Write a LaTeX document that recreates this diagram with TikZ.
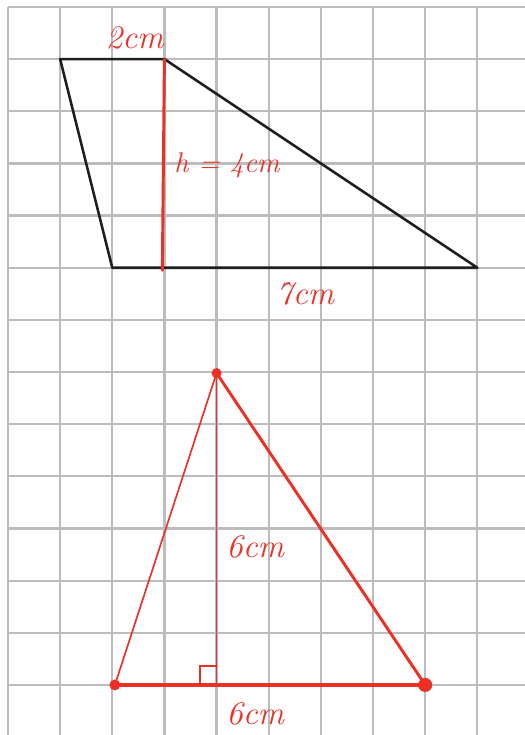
\documentclass[tikz,border=0pt]{standalone}
\usetikzlibrary{calc}
\begin{document}
\begin{tikzpicture}[x=1cm,y=1cm,
  gridline/.style={draw=gridc,line width=1.2pt},
  outline/.style={draw=inkc,line width=1.4pt,line join=round},
  redline/.style={draw=pen,line width=1.6pt,line cap=round},
  thinred/.style={draw=pen,line width=0.9pt,line cap=round},
  thickred/.style={draw=pen,line width=2.2pt,line cap=round},
  lbl/.style={text=pen,font=\fontsize{18}{18}\selectfont\itshape,inner sep=0pt},
  lblh/.style={text=pen,font=\fontsize{15.5}{15.5}\selectfont\itshape,inner sep=0pt},
  dot/.style={fill=pen}]
\definecolor{pen}{RGB}{236,48,38}
\definecolor{gridc}{RGB}{188,188,188}
\definecolor{inkc}{RGB}{30,30,30}
\useasboundingbox (-0.153,0.134) rectangle (9.914,-13.96);
\fill[white] (-0.153,0.134) rectangle (9.914,-13.96);
% grid
\foreach \j in {0,...,13} \draw[gridline] (0,-\j) -- (9.914,-\j);
\foreach \i in {0,...,9} \draw[gridline] (\i,0) -- (\i,-13.96);
% trapezoid
\coordinate (A) at (1,-1);
\coordinate (B) at (3,-1);
\coordinate (C) at (9,-5);
\coordinate (D) at (2,-5);
\coordinate (H) at (2.96,-5.05);
\draw[outline] (A) -- (B) -- (C) -- (D) -- cycle;
\draw[redline] (B) -- (H);
\node[lbl] (l2) at (2.43,-0.6) {2cm};
\node[lblh] (lh) at (4.2,-3.03) {h = 4cm};
\node[lbl] (l7) at (5.70,-5.5) {7cm};
% triangle
\coordinate (P) at (4,-7.02);
\coordinate (Q) at (2.05,-13);
\coordinate (R) at (8.0,-13);
\coordinate (F) at (4,-13);
\draw[thinred] (P) -- (Q);
\draw[redline] (P) -- (R);
\draw[thinred] (P) -- (F);
\draw[thickred] (Q) -- (R);
\draw[thinred,line width=1.3pt] ($(F)+(-0.32,0)$) -- ++(0,0.36) -- ++(0.32,0);
\fill[dot] (P) circle (0.096);
\fill[dot] (Q) circle (0.105);
\fill[dot] (R) circle (0.135);
\node[lbl] (l6a) at (4.74,-10.35) {6cm};
\node[lbl] (l6b) at (4.74,-13.55) {6cm};
\end{tikzpicture}
\end{document}
